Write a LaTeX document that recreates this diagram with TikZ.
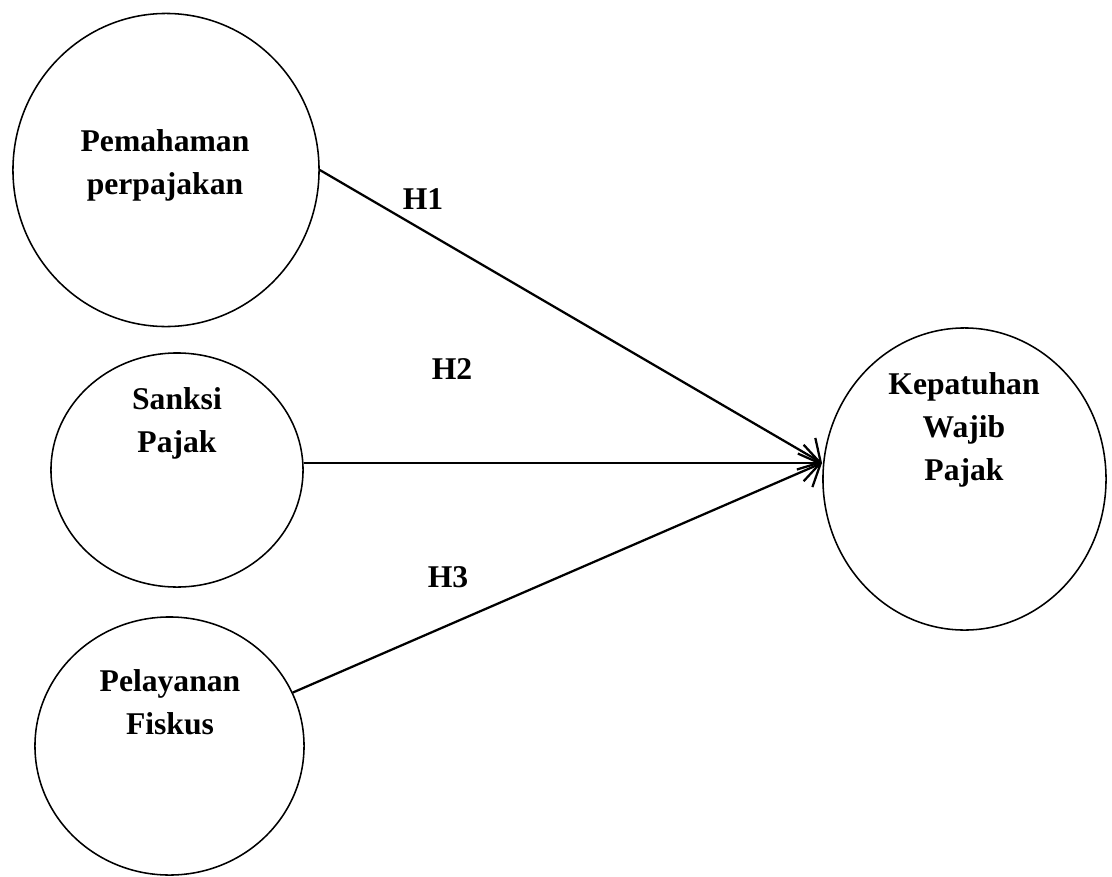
\documentclass[tikz,border=0pt]{standalone}
\usepackage{fontspec}
\setmainfont{Liberation Serif}
\usetikzlibrary{shapes.geometric,arrows.meta}
\tikzset{
  varbox/.style={draw, ellipse, line width=1.1pt, inner sep=0pt},
  vartext/.style={align=center, font=\bfseries\fontsize{22.5}{30.5}\selectfont},
  hlabel/.style={font=\bfseries\fontsize{22.5}{30.5}\selectfont},
  path/.style={line width=1.6pt, -{Straight Barb[length=12pt,width=26pt]}}
}

\begin{document}
\begin{tikzpicture}[x=0.025cm,y=-0.025cm]
\useasboundingbox (0,0) rectangle (1112,876);

%独立変数
\node[varbox, minimum width=7.65cm, minimum height=7.825cm] (c1) at (166,170) {};
\node[varbox, minimum width=6.3cm, minimum height=5.85cm] (c2) at (177,470) {};
\node[varbox, minimum width=6.725cm, minimum height=6.45cm] (c3) at (169.5,746) {};
%従属変数
\node[varbox, minimum width=7.075cm, minimum height=7.55cm] (c4) at (964.5,479) {};

\node[vartext] (t1) at (165,165) {Pemahaman\\perpajakan};
\node[vartext] (t2) at (177,423) {Sanksi\\Pajak};
\node[vartext] (t3) at (170,702) {Pelayanan\\Fiskus};
\node[vartext] (t4) at (964,430) {Kepatuhan\\Wajib\\Pajak};

%矢印の先端
\coordinate (tip) at (822,463);

\draw[path] (c1.east) -- (tip);
\draw[path] (c2.east |- tip) -- (tip);
\draw[path] (c3) -- (tip);

%仮説
\node[hlabel] (h1) at (423,199) {H1};
\node[hlabel] (h2) at (452,369) {H2};
\node[hlabel] (h3) at (448,577) {H3};
\end{tikzpicture}
\end{document}
